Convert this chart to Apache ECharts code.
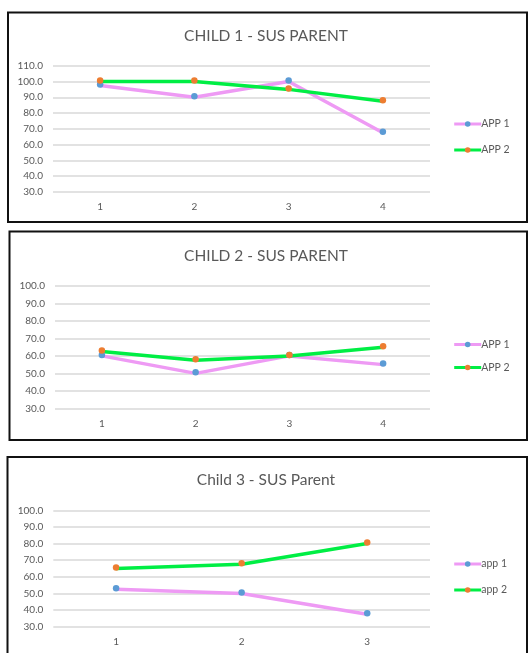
<!DOCTYPE html>
<html>
<head>
<meta charset="utf-8">
<script src="https://cdn.jsdelivr.net/npm/echarts@6/dist/echarts.min.js"></script>
<style>
  html, body { margin: 0; padding: 0; background: #ffffff; }
  #chart { width: 528px; height: 653px; }
</style>
</head>
<body>
<div id="chart"></div>
<script>
// SUS parent scores per session, one panel per child
const child1Sessions = ['1', '2', '3', '4'];
const child1App1 = [97.5, 90, 100, 67.5];
const child1App2 = [100, 100, 95, 87.5];

const child2Sessions = ['1', '2', '3', '4'];
const child2App1 = [60, 50, 60, 55];
const child2App2 = [62.5, 57.5, 60, 65];

const child3Sessions = ['1', '2', '3'];
const child3App1 = [52.5, 50, 37.5];
const child3App2 = [65, 67.5, 80];

const panelTitles = ['CHILD 1 - SUS PARENT', 'CHILD 2 - SUS PARENT', 'Child 3 - SUS Parent'];
const seriesNames = [['APP 1', 'APP 2'], ['APP 1', 'APP 2'], ['app 1', 'app 2']];
const yMin = [30, 30, 30];
const yMax = [110, 100, 100];

const FONT = 'Lato, "Open Sans", sans-serif';
const TEXT = '#595959';
const PINK = '#ee9af4';
const GREEN = '#00ee44';
const BLUE = '#5b9bd5';
const ORANGE = '#ed7d31';

const panels = [
  { cats: child1Sessions, a1: child1App1, a2: child1App2,
    grid: { left: 53, top: 65.7, width: 377, height: 126.3 },
    box: { x: 8, y: 12.5, w: 519, h: 209.5 }, titleTop: 28, legendTop: 118.5, legendGap: 15 },
  { cats: child2Sessions, a1: child2App1, a2: child2App2,
    grid: { left: 55, top: 286, width: 375, height: 122.3 },
    box: { x: 9.5, y: 231.5, w: 517.5, h: 208.5 }, titleTop: 248, legendTop: 339, legendGap: 12 },
  { cats: child3Sessions, a1: child3App1, a2: child3App2,
    grid: { left: 53.3, top: 510.3, width: 376.7, height: 116.4 },
    box: { x: 7.5, y: 457, w: 519.5, h: 220 }, titleTop: 472, legendTop: 558.5, legendGap: 15 }
];

const option = {
  animation: false,
  backgroundColor: '#ffffff',
  title: [], grid: [], xAxis: [], yAxis: [], legend: [], series: [],
  graphic: []
};

panels.forEach((p, i) => {
  option.graphic.push({
    type: 'rect', z: 0,
    shape: { x: p.box.x, y: p.box.y, width: p.box.w, height: p.box.h },
    style: { fill: 'none', stroke: '#111111', lineWidth: 2 }
  });
  option.title.push({
    text: panelTitles[i], left: 266, top: p.titleTop, textAlign: 'center', padding: 0,
    textStyle: { fontFamily: FONT, fontSize: 15.5, fontWeight: 'normal', color: TEXT }
  });
  option.grid.push(Object.assign({ containLabel: false }, p.grid));
  option.xAxis.push({
    type: 'category', gridIndex: i, data: p.cats, boundaryGap: true,
    axisLine: { show: false }, axisTick: { show: false },
    axisLabel: { fontFamily: FONT, fontSize: 10, color: TEXT, margin: 10 }
  });
  option.yAxis.push({
    type: 'value', gridIndex: i, min: yMin[i], max: yMax[i], interval: 10,
    axisLine: { show: false }, axisTick: { show: false },
    axisLabel: { fontFamily: FONT, fontSize: 10, color: TEXT, margin: 10,
      formatter: v => v.toFixed(1) },
    splitLine: { lineStyle: { color: '#d9d9d9', width: 1.5 } }
  });
  option.legend.push({
    data: seriesNames[i], orient: 'vertical', left: 452.7, top: p.legendTop,
    itemWidth: 27, itemHeight: 7, itemGap: p.legendGap, padding: 0,
    lineStyle: { width: 3 },
    textStyle: { fontFamily: FONT, fontSize: 10.5, color: TEXT, padding: [0, 0, 0, -5] }
  });
  const mk = (name, data, lineColor, dotColor) => ({
    name, type: 'line', xAxisIndex: i, yAxisIndex: i, data,
    symbol: 'circle', symbolSize: 6.5, symbolOffset: [0, -1], showSymbol: true,
    lineStyle: { color: lineColor, width: 3.5 },
    itemStyle: { color: dotColor },
    emphasis: { disabled: true }
  });
  option.series.push(mk(seriesNames[i][0], p.a1, PINK, BLUE));
  option.series.push(mk(seriesNames[i][1], p.a2, GREEN, ORANGE));
});

const chart = echarts.init(document.getElementById('chart'), null, { renderer: 'canvas' });
chart.setOption(option);
</script>
</body>
</html>
